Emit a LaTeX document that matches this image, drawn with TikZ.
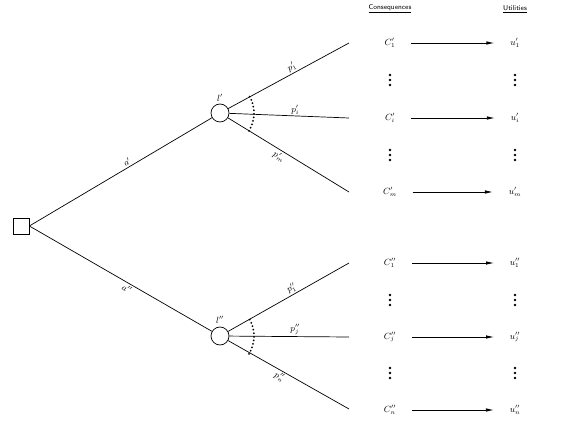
\documentclass[tikz,border=0pt]{standalone}
\usepackage{fontspec}
\usetikzlibrary{arrows.meta}
\begin{document}
\begin{tikzpicture}[x=1pt,y=1pt,
  line width=0.7pt,
  chance/.style={circle,draw,fill=white,minimum size=18pt,inner sep=0pt},
  decision/.style={rectangle,draw,fill=white,minimum size=16pt,inner sep=0pt},
  lbl/.style={font=\small,inner sep=1.5pt},
  hdr/.style={font=\sffamily\scriptsize,inner sep=1pt},
  arr/.style={-{Latex[length=8pt,width=3.5pt]},line width=0.8pt},
  dotarc/.style={line width=2pt,dash pattern=on 0pt off 3.6pt,line cap=round},
  vdot/.style={fill=black,draw=none}]
\useasboundingbox (0,0) rectangle (567,-427);
% nodes
\node[decision] (d) at (21,-226) {};
\node[chance] (c1) at (220,-113) {};
\node[chance] (c2) at (220,-336) {};
\node[lbl] at (220,-98) {$l'$};
\node[lbl] at (220,-320) {$l''$};
% branch end coordinates
\coordinate (e11) at (349,-43);
\coordinate (e1i) at (349,-118);
\coordinate (e1m) at (349,-192);
\coordinate (e21) at (349,-263);
\coordinate (e2j) at (349,-337);
\coordinate (e2n) at (349,-409);
% main branches
\draw (d.east) -- node[lbl,sloped,above,pos=0.55] {$a'$} (c1);
\draw (d.east) -- node[lbl,sloped,below,pos=0.55] {$a''$} (c2);
% chance branches
\draw (c1) -- node[lbl,sloped,above,pos=0.55] {$p'_1$} (e11);
\draw (c1) -- node[lbl,above,pos=0.55] {$p'_i$} (e1i);
\draw (c1) -- node[lbl,sloped,below,pos=0.45] {$p'_m$} (e1m);
\draw (c2) -- node[lbl,sloped,above,pos=0.55] {$p''_1$} (e21);
\draw (c2) -- node[lbl,above,pos=0.55] {$p''_j$} (e2j);
\draw (c2) -- node[lbl,sloped,below,pos=0.45] {$p''_n$} (e2n);
% dotted arcs
\draw[dotarc] ([shift={(29:34)}]c1.center) arc[start angle=29,end angle=-32,radius=34];
\draw[dotarc] ([shift={(29:34)}]c2.center) arc[start angle=29,end angle=-32,radius=34];
% headers
\node[hdr] (hc) at (390,-9) {\underline{Consequences}};
\node[hdr] (hu) at (515,-9) {\underline{Utilities}};
% consequences and utilities
\node[lbl] (C11) at (390,-43) {$C'_1$};
\node[lbl] (C1i) at (390,-118) {$C'_i$};
\node[lbl] (C1m) at (390,-192) {$C'_m$};
\node[lbl] (C21) at (390,-263) {$C''_1$};
\node[lbl] (C2j) at (390,-337) {$C''_j$};
\node[lbl] (C2n) at (390,-410) {$C''_n$};
\node[lbl] (u11) at (515,-43) {$u'_1$};
\node[lbl] (u1i) at (515,-118) {$u'_i$};
\node[lbl] (u1m) at (515,-192) {$u'_m$};
\node[lbl] (u21) at (515,-263) {$u''_1$};
\node[lbl] (u2j) at (515,-337) {$u''_j$};
\node[lbl] (u2n) at (515,-410) {$u''_n$};
\foreach \a/\b in {C11/u11,C1i/u1i,C1m/u1m,C21/u21,C2j/u2j,C2n/u2n}
  \draw[arr] ([xshift=14pt]\a.east) -- ([xshift=-14pt]\b.west);
% vertical dots
\foreach \y in {80,155,300,373} {
  \foreach \x in {390,515} {
    \foreach \d in {-5,0,5}
      \fill[vdot] (\x,-\y+\d) circle[radius=1.4];
  }
}
\end{tikzpicture}
\end{document}
